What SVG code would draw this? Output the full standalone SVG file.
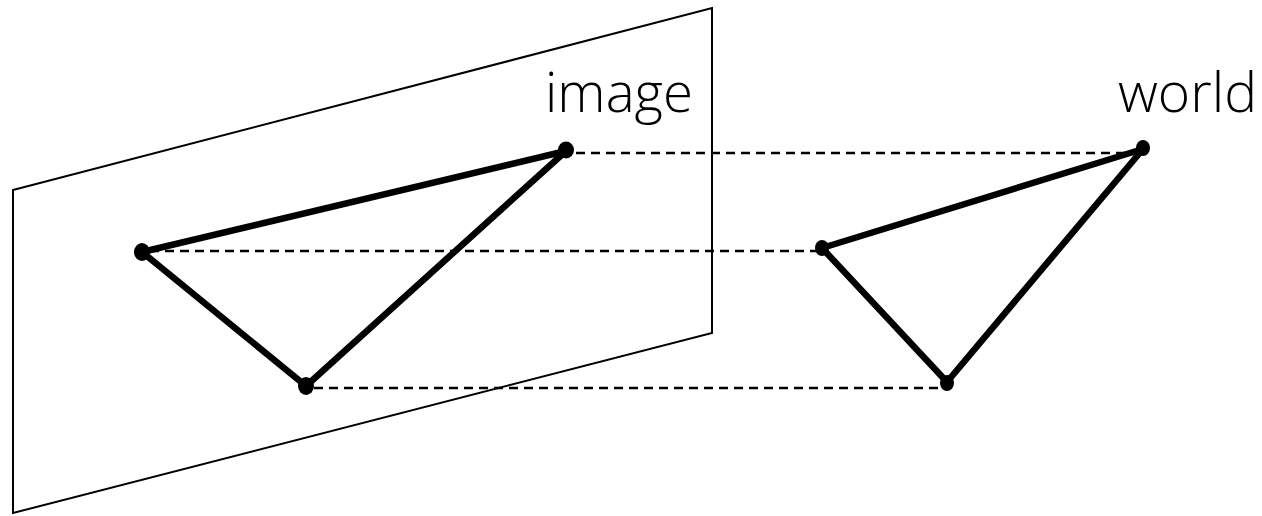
<svg xmlns="http://www.w3.org/2000/svg" width="1262" height="516" viewBox="0 0 1262 516">
<style>
.plane{fill:none;stroke:#000;stroke-width:2}
.edge{fill:none;stroke:#000;stroke-width:6.5;stroke-linejoin:round}
.dash{fill:none;stroke:#000;stroke-width:2.3;stroke-dasharray:9 6}
.dot{fill:#000}
.lbl{font-family:"Open Sans","Noto Sans",sans-serif;font-weight:300;font-size:55px;fill:#000}
</style>
<rect width="1262" height="516" fill="#fff"/>
<g id="image-plane">
<polygon class="plane" points="13,190 712,8 712,333 13,513"/>
<text class="lbl" x="545" y="112" textLength="148" lengthAdjust="spacingAndGlyphs">image</text>
</g>
<g id="connectors">
<line class="dash" x1="576" y1="153" x2="1137" y2="153"/>
<line class="dash" x1="150" y1="251" x2="818" y2="251"/>
<line class="dash" x1="314" y1="388" x2="942" y2="388"/>
</g>
<g id="image-triangle">
<polygon class="edge" points="142,252 566,151 306,386"/>
<ellipse class="dot" cx="142" cy="252" rx="8" ry="9"/>
<ellipse class="dot" cx="566" cy="150" rx="8" ry="8.5"/>
<ellipse class="dot" cx="306" cy="386" rx="8" ry="9"/>
</g>
<g id="world">
<text class="lbl" x="1118" y="112" textLength="139" lengthAdjust="spacingAndGlyphs">world</text>
<polygon class="edge" points="822,248 1143,149 947,382"/>
<ellipse class="dot" cx="822" cy="248" rx="7" ry="8"/>
<ellipse class="dot" cx="1143" cy="148" rx="7" ry="8"/>
<ellipse class="dot" cx="947" cy="383" rx="7" ry="8"/>
</g>
</svg>
